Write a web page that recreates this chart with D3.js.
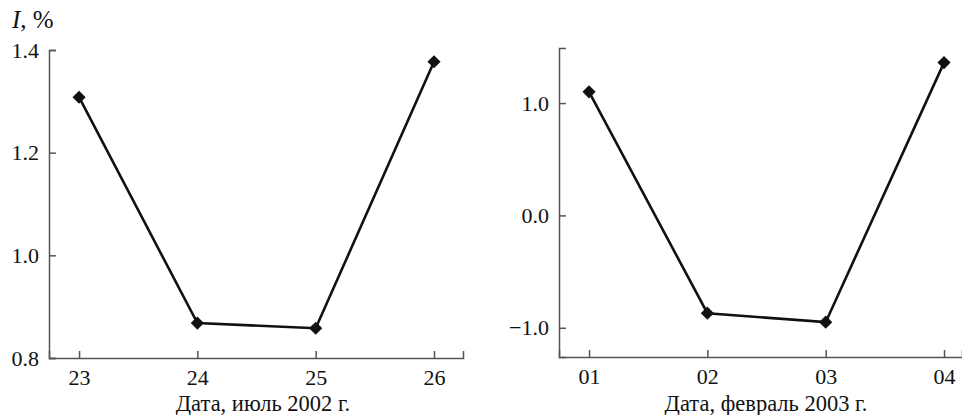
<!DOCTYPE html>
<html>
<head>
<meta charset="utf-8">
<script src="https://cdn.jsdelivr.net/npm/d3@7"></script>
<style>
  body { margin: 0; background: #fff; }
  svg text { fill: #111; }
</style>
</head>
<body>
<div id="chart"></div>
<script>
// July 2002 panel
var daysJul = [23, 24, 25, 26];
var valsJul = [1.308, 0.868, 0.858, 1.377];
var ticksJul = [0.8, 1.0, 1.2, 1.4];

// February 2003 panel
var daysFeb = [1, 2, 3, 4];
var valsFeb = [1.10, -0.87, -0.95, 1.36];
var ticksFeb = [-1.0, 0.0, 1.0];

var w = 962, h = 415;
var serif = '"Liberation Serif", "Times New Roman", Tinos, "DejaVu Serif", serif';

var svg = d3.select('#chart')
  .append('svg')
  .attr('width', w)
  .attr('height', h);

function panel(cfg) {
  var x = d3.scaleLinear().domain(cfg.xDomain).range(cfg.xRange);
  var y = d3.scaleLinear().domain(cfg.yDomain).range(cfg.yRange);

  var gx = svg.append('g')
    .attr('transform', 'translate(0,' + cfg.yRange[0] + ')')
    .call(d3.axisBottom(x)
      .tickValues(cfg.days)
      .tickSize(-7)
      .tickPadding(11)
      .tickFormat(cfg.xFormat));

  var gy = svg.append('g')
    .attr('transform', 'translate(' + cfg.xRange[0] + ',0)')
    .call(d3.axisLeft(y)
      .tickValues(cfg.yTicks)
      .tickSize(-7)
      .tickPadding(10)
      .tickFormat(d3.format('.1f')));

  [gx, gy].forEach(function(g) {
    g.attr('font-family', serif).attr('font-size', 22);
    g.selectAll('path, line').attr('stroke', '#555').attr('stroke-width', 1.5);
    g.selectAll('text').attr('fill', '#111');
  });
  gx.selectAll('text').attr('dy', '0.71em');

  var pts = cfg.days.map(function(d, i) { return [d, cfg.vals[i]]; });

  svg.append('path')
    .datum(pts)
    .attr('fill', 'none')
    .attr('stroke', '#111')
    .attr('stroke-width', 2.6)
    .attr('d', d3.line()
      .x(function(d) { return x(d[0]); })
      .y(function(d) { return y(d[1]); }));

  svg.selectAll(null)
    .data(pts)
    .enter()
    .append('path')
    .attr('transform', function(d) { return 'translate(' + x(d[0]) + ',' + y(d[1]) + ')'; })
    .attr('d', d3.symbol().type(d3.symbolDiamond2).size(110))
    .attr('fill', '#111');

  svg.append('text')
    .attr('x', cfg.labelX)
    .attr('y', 411)
    .attr('text-anchor', 'middle')
    .attr('font-family', serif)
    .attr('font-size', 22.5)
    .text(cfg.label);
}

panel({
  days: daysJul, vals: valsJul, yTicks: ticksJul,
  xDomain: [22.746, 26.245], xRange: [49, 463],
  yDomain: [0.8, 1.4], yRange: [358, 50],
  xFormat: d3.format('d'),
  label: 'Дата, июль 2002 г.', labelX: 263
});

panel({
  days: daysFeb, vals: valsFeb, yTicks: ticksFeb,
  xDomain: [0.746, 4.152], xRange: [559, 962],
  yDomain: [-1.26, 1.49], yRange: [357, 48],
  xFormat: function(d) { return '0' + d; },
  label: 'Дата, февраль 2003 г.', labelX: 766
});

// y-axis title of the left panel
var title = svg.append('text')
  .attr('x', 12)
  .attr('y', 28)
  .attr('font-family', serif)
  .attr('font-size', 25);
title.append('tspan').style('font-style', 'italic').text('I');
title.append('tspan').text(', %');
</script>
</body>
</html>
